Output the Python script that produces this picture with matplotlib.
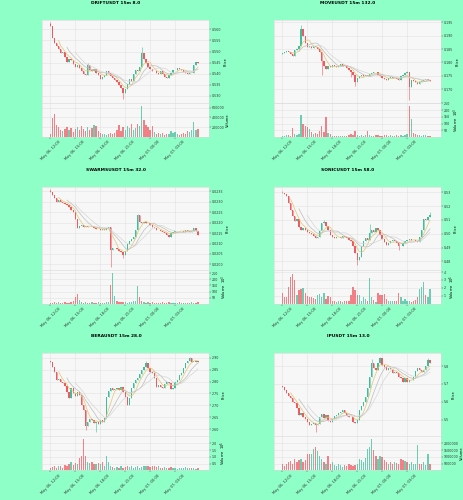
import matplotlib
matplotlib.use('Agg')
import matplotlib.pyplot as plt
import numpy as np
import pandas as pd

dates = pd.date_range('2025-05-06 12:00', periods=72, freq='15min')

# ---------------- DRIFT ----------------
drift_open0 = 0.5625
drift_close = [0.5615, 0.5560, 0.5540, 0.5525, 0.5510, 0.5495, 0.5500, 0.5475, 0.5455, 0.5465,
               0.5462, 0.5445, 0.5432, 0.5440, 0.5424, 0.5410, 0.5400, 0.5392, 0.5440, 0.5418,
               0.5412, 0.5420, 0.5405, 0.5392, 0.5378, 0.5385, 0.5396, 0.5410, 0.5405, 0.5388,
               0.5380, 0.5370, 0.5362, 0.5350, 0.5335, 0.5312, 0.5330, 0.5352, 0.5375, 0.5368,
               0.5400, 0.5415, 0.5410, 0.5432, 0.5492, 0.5465, 0.5450, 0.5432, 0.5420, 0.5410,
               0.5412, 0.5402, 0.5398, 0.5410, 0.5400, 0.5387, 0.5380, 0.5392, 0.5402, 0.5415,
               0.5418, 0.5425, 0.5420, 0.5418, 0.5408, 0.5405, 0.5398, 0.5402, 0.5405, 0.5440,
               0.5455, 0.5447]
drift_highs = {0: 0.5632, 18: 0.5447, 44: 0.5522}
drift_lows = {35: 0.5285}
drift_vol = [60, 390, 480, 250, 200, 150, 120, 170, 210, 140, 180, 110, 160, 200, 140, 230, 170, 120,
             210, 150, 190, 240, 230, 130, 90, 60, 70, 50, 60, 80, 60, 90, 140, 240, 120, 200,
             150, 230, 180, 260, 140, 180, 260, 230, 640, 350, 250, 200, 150, 230, 100, 60, 80, 60,
             90, 50, 70, 60, 120, 80, 100, 60, 50, 60, 80, 60, 120, 100, 150, 310, 140, 170]

# ---------------- MOVE ----------------
move_open0 = 0.1830
move_close = [0.1834, 0.1838, 0.1844, 0.1840, 0.1832, 0.1822, 0.1846, 0.1850, 0.1862, 0.1925,
              0.1900, 0.1872, 0.1858, 0.1862, 0.1855, 0.1860, 0.1856, 0.1850, 0.1838, 0.1805,
              0.1785, 0.1776, 0.1785, 0.1782, 0.1790, 0.1786, 0.1782, 0.1788, 0.1792, 0.1788,
              0.1791, 0.1780, 0.1772, 0.1765, 0.1752, 0.1728, 0.1740, 0.1748, 0.1752, 0.1749,
              0.1754, 0.1750, 0.1755, 0.1760, 0.1764, 0.1762, 0.1754, 0.1748, 0.1741, 0.1738,
              0.1735, 0.1742, 0.1745, 0.1740, 0.1742, 0.1738, 0.1735, 0.1748, 0.1754, 0.1760,
              0.1762, 0.1706, 0.1735, 0.1731, 0.1728, 0.1720, 0.1726, 0.1730, 0.1735, 0.1737,
              0.1733, 0.1731]
move_highs = {9: 0.1940, 60: 0.1768}
move_lows = {19: 0.1752, 33: 0.1746, 35: 0.1711, 61: 0.1659}
move_vol = [5, 8, 15, 12, 10, 70, 20, 15, 25, 160, 95, 85, 72, 60, 40, 25, 30, 20, 45, 78, 35, 145,
            30, 20, 10, 8, 6, 8, 5, 6, 8, 10, 15, 22, 12, 48, 15, 10, 12, 8, 15, 45, 12, 10, 8, 12,
            15, 8, 10, 12, 18, 10, 15, 8, 10, 12, 8, 15, 10, 12, 20, 230, 137, 28, 20, 15, 12, 10,
            15, 12, 10, 8]

# ---------------- SWARMS ----------------
swarms_open0 = 0.02352
swarms_close = [0.02345, 0.02331, 0.02315, 0.02300, 0.02307, 0.02299, 0.02294, 0.02290, 0.02282, 0.02272,
                0.02259, 0.02250, 0.02215, 0.02172, 0.02182, 0.02188, 0.02180, 0.02185, 0.02181, 0.02177,
                0.02180, 0.02172, 0.02167, 0.02170, 0.02164, 0.02170, 0.02166, 0.02175, 0.02180, 0.02069,
                0.02077, 0.02080, 0.02072, 0.02064, 0.02058, 0.02045, 0.02065, 0.02098, 0.02110, 0.02122,
                0.02130, 0.02164, 0.02236, 0.02204, 0.02198, 0.02202, 0.02196, 0.02198, 0.02188, 0.02180,
                0.02172, 0.02166, 0.02164, 0.02158, 0.02155, 0.02150, 0.02140, 0.02132, 0.02150, 0.02157,
                0.02160, 0.02162, 0.02158, 0.02160, 0.02157, 0.02164, 0.02160, 0.02155, 0.02162, 0.02172,
                0.02160, 0.02142]
swarms_highs = {0: 0.02360, 42: 0.02240}
swarms_lows = {29: 0.01986, 35: 0.02030}
swarms_vol = [5, 8, 10, 6, 12, 8, 5, 10, 6, 8, 12, 25, 55, 83, 30, 12, 8, 10, 6, 8, 12, 5, 8, 10,
              6, 8, 5, 10, 12, 150, 255, 60, 25, 15, 10, 18, 12, 8, 15, 10, 20, 25, 144, 55, 25, 12,
              8, 10, 6, 12, 8, 5, 8, 6, 10, 5, 8, 12, 6, 5, 8, 6, 10, 5, 8, 6, 5, 8, 10, 6, 8, 12]

# ---------------- SONIC ----------------
sonic_open0 = 0.5298
sonic_close = [0.5292, 0.5286, 0.5275, 0.5220, 0.5175, 0.5130, 0.5090, 0.5105, 0.5052, 0.5030,
               0.5040, 0.5025, 0.5015, 0.5005, 0.4995, 0.4982, 0.4968, 0.4975, 0.5020, 0.5075,
               0.5088, 0.5060, 0.5025, 0.4992, 0.4978, 0.4966, 0.4975, 0.4980, 0.4972, 0.4985,
               0.4978, 0.4966, 0.4955, 0.4945, 0.4915, 0.4860, 0.4812, 0.4835, 0.4915, 0.4945,
               0.4968, 0.4955, 0.5005, 0.5025, 0.5010, 0.5045, 0.5030, 0.4990, 0.4962, 0.4940,
               0.4920, 0.4932, 0.4945, 0.4955, 0.4948, 0.4930, 0.4908, 0.4915, 0.4935, 0.4948,
               0.4955, 0.4962, 0.4958, 0.4955, 0.4950, 0.4942, 0.4975, 0.5030, 0.5110, 0.5098,
               0.5122, 0.5136]
sonic_highs = {0: 0.5312, 20: 0.5100, 42: 0.5070, 71: 0.5160}
sonic_lows = {36: 0.4774, 56: 0.4880}
sonic_vol = [1.4, 0.9, 0.9, 2.1, 3.4, 3.8, 3.0, 1.1, 1.7, 1.9, 2.0, 1.3, 1.0, 0.8, 0.9, 0.7, 0.6, 1.1,
             1.2, 0.9, 1.3, 0.6, 1.0, 0.8, 0.4, 0.3, 0.2, 0.4, 0.3, 0.2, 0.3, 0.4, 0.4, 1.1, 2.1, 1.7,
             1.1, 1.1, 0.4, 0.8, 0.6, 0.4, 3.3, 0.8, 0.5, 0.2, 1.3, 1.1, 1.1, 1.2, 0.6, 0.4, 0.3, 0.4,
             0.3, 0.4, 1.3, 0.8, 0.4, 0.6, 0.4, 0.3, 0.2, 0.3, 0.5, 0.8, 1.9, 2.1, 2.8, 1.1, 0.8, 1.9]

# ---------------- BERA ----------------
bera_open0 = 2.888
bera_close = [2.882, 2.862, 2.840, 2.808, 2.812, 2.800, 2.792, 2.780, 2.757, 2.730,
              2.772, 2.752, 2.738, 2.757, 2.744, 2.702, 2.682, 2.612, 2.630, 2.645,
              2.638, 2.628, 2.632, 2.624, 2.638, 2.630, 2.648, 2.736, 2.760, 2.771,
              2.764, 2.768, 2.772, 2.766, 2.776, 2.758, 2.736, 2.702, 2.730, 2.771,
              2.792, 2.806, 2.813, 2.830, 2.848, 2.862, 2.876, 2.856, 2.840, 2.834,
              2.813, 2.778, 2.786, 2.777, 2.775, 2.789, 2.799, 2.792, 2.767, 2.772,
              2.799, 2.806, 2.827, 2.836, 2.855, 2.879, 2.887, 2.897, 2.883, 2.884,
              2.888, 2.882]
bera_highs = {46: 2.885, 67: 2.905}
bera_lows = {17: 2.596, 22: 2.589}
bera_vol = [0.2, 0.25, 0.3, 0.2, 0.35, 0.3, 0.2, 0.4, 0.35, 0.45, 0.6, 0.4, 0.55, 0.45, 0.9, 1.1,
            2.3, 1.1, 0.6, 0.55, 0.6, 0.45, 0.5, 0.55, 0.45, 0.6, 0.35, 1.1, 0.6, 0.35, 0.25, 0.2,
            0.25, 0.2, 0.3, 0.2, 0.25, 0.35, 0.25, 0.3, 0.2, 0.25, 0.3, 0.2, 0.25, 0.3, 0.35, 0.3,
            0.25, 0.3, 0.35, 0.25, 0.3, 0.2, 0.15, 0.25, 0.2, 0.15, 0.25, 0.2, 0.15, 0.1, 0.15, 0.2,
            0.15, 0.25, 0.2, 0.15, 0.2, 0.15, 0.1, 0.15]

# ---------------- IP ----------------
ip_open0 = 5.690
ip_close = [5.684, 5.668, 5.647, 5.630, 5.619, 5.600, 5.591, 5.565, 5.526, 5.535,
            5.516, 5.505, 5.488, 5.470, 5.474, 5.479, 5.470, 5.474, 5.516, 5.530,
            5.507, 5.526, 5.495, 5.485, 5.505, 5.520, 5.526, 5.535, 5.544, 5.554,
            5.535, 5.520, 5.516, 5.513, 5.488, 5.479, 5.498, 5.554, 5.575, 5.600,
            5.628, 5.675, 5.740, 5.815, 5.787, 5.776, 5.815, 5.843, 5.806, 5.796,
            5.776, 5.790, 5.781, 5.759, 5.768, 5.759, 5.740, 5.731, 5.712, 5.731,
            5.712, 5.722, 5.722, 5.740, 5.770, 5.787, 5.776, 5.768, 5.780, 5.800,
            5.834, 5.815]
ip_highs = {43: 5.840, 47: 5.850, 70: 5.846}
ip_lows = {16: 5.433}
ip_vol = [0.50, 0.30, 0.45, 0.62, 0.70, 0.50, 0.87, 0.62, 0.75, 0.87, 0.62, 0.80, 1.20, 1.20, 1.20,
          1.60, 1.70, 1.45, 1.10, 0.87, 0.62, 0.45, 1.10, 0.50, 0.62, 0.38, 0.30, 0.45, 0.38, 0.25,
          0.38, 0.30, 0.45, 0.38, 0.30, 0.40, 0.50, 0.87, 0.75, 0.62, 0.95, 1.60, 1.75, 2.30, 1.50,
          1.10, 0.87, 1.10, 1.00, 0.75, 0.62, 0.50, 0.62, 0.45, 0.62, 0.55, 0.50, 0.87, 0.75, 0.70,
          0.62, 0.50, 0.62, 0.50, 0.50, 1.87, 0.50, 0.45, 0.62, 0.38, 1.20, 0.45]

charts = [
    dict(title='DRIFTUSDT 15m 8.0', o0=drift_open0, c=drift_close, hi=drift_highs, lo=drift_lows,
         vol=drift_vol, vmult=1e3, vexp=None, yt=np.arange(0.530, 0.5601, 0.005), yfmt='%.3f',
         ylim=(0.5268, 0.5642), vt=[200000, 400000, 600000], vlim=697000, vfmt='%d'),
    dict(title='MOVEUSDT 15m 132.0', o0=move_open0, c=move_close, hi=move_highs, lo=move_lows,
         vol=move_vol, vmult=1e3, vexp=3, yt=np.arange(0.170, 0.1951, 0.005), yfmt='%.3f',
         ylim=(0.16475, 0.19588), vt=[50, 100, 150, 200, 250], vlim=252, vfmt='%d'),
    dict(title='SWARMSUSDT 15m 32.0', o0=swarms_open0, c=swarms_close, hi=swarms_highs, lo=swarms_lows,
         vol=swarms_vol, vmult=1e3, vexp=3, yt=np.arange(0.0200, 0.02351, 0.0005), yfmt='%.4f',
         ylim=(0.01975, 0.02371), vt=[50, 100, 150, 200, 250], vlim=280, vfmt='%d'),
    dict(title='SONICUSDT 15m 58.0', o0=sonic_open0, c=sonic_close, hi=sonic_highs, lo=sonic_lows,
         vol=sonic_vol, vmult=1e5, vexp=5, yt=np.arange(0.48, 0.5301, 0.01), yfmt='%.2f',
         ylim=(0.4740, 0.5341), vt=[1, 2, 3, 4], vlim=4.3, vfmt='%d'),
    dict(title='BERAUSDT 15m 28.0', o0=bera_open0, c=bera_close, hi=bera_highs, lo=bera_lows,
         vol=bera_vol, vmult=1e5, vexp=5, yt=np.arange(2.60, 2.9001, 0.05), yfmt='%.2f',
         ylim=(2.570, 2.918), vt=[0.5, 1.0, 1.5, 2.0], vlim=2.52, vfmt='%.1f'),
    dict(title='IPUSDT 15m 13.0', o0=ip_open0, c=ip_close, hi=ip_highs, lo=ip_lows,
         vol=ip_vol, vmult=1e6, vexp=None, yt=np.arange(5.5, 5.801, 0.1), yfmt='%.1f',
         ylim=(5.406, 5.871), vt=[500000, 1000000, 1500000, 2000000], vlim=2.52e6, vfmt='%d'),
]

UP = '#3dbf9b'
DOWN = '#ef5a61'
BG = '#8effc6'
FACE = '#f7f7f7'
GRID = '#e2e2e2'
MAV = (5, 9, 13)
MAVC = ['#e2c66e', '#bdbdbd', '#d6d6d6']

W, H = 464, 500
fig = plt.figure(figsize=(W / 100, H / 100), dpi=100, facecolor=BG)

tick_idx = list(range(0, 72, 12))
tick_lab = [dates[i].strftime('%b %d, %H:%M') for i in tick_idx]

for k, ch in enumerate(charts):
    col, row = k % 2, k // 2
    x0 = 42 + 232 * col
    top = 20 + 166.7 * row
    axp = fig.add_axes([x0 / W, 1 - (top + 83) / H, 167 / W, 83 / H])
    axv = fig.add_axes([x0 / W, 1 - (top + 117) / H, 167 / W, 34 / H], sharex=axp)
    fig.text((116 + 232 * col) / W, 1 - (3 + 166.7 * row) / H, ch['title'], ha='center', va='center',
             fontsize=3.2, fontweight='bold')

    c = np.array(ch['c'])
    o = np.concatenate([[ch['o0']], c[:-1]])
    hi = np.maximum(o, c)
    lo = np.minimum(o, c)
    for i, v in ch['hi'].items():
        hi[i] = v
    for i, v in ch['lo'].items():
        lo[i] = v
    x = np.arange(len(c))
    up = c >= o
    colors = np.where(up, UP, DOWN)
    span = ch['ylim'][1] - ch['ylim'][0]
    body = np.maximum(np.abs(c - o), span * 0.004)
    axp.vlines(x, lo, hi, colors=colors, linewidth=0.4, zorder=2)
    axp.bar(x, body, bottom=np.minimum(o, c), width=0.62, color=colors, linewidth=0, zorder=3)
    s = pd.Series(c)
    for m, mc in zip(MAV, MAVC):
        axp.plot(x, s.rolling(m).mean(), color=mc, linewidth=0.5, zorder=4)

    vol = np.array(ch['vol']) * ch['vmult']
    if ch['vexp'] is not None:
        vol = vol / 10 ** ch['vexp']
    axv.bar(x, vol, width=0.62, color=colors, alpha=0.75, linewidth=0)

    for ax in (axp, axv):
        ax.set_facecolor(FACE)
        ax.grid(True, color=GRID, linewidth=0.4)
        ax.set_axisbelow(True)
        ax.yaxis.tick_right()
        ax.yaxis.set_label_position('right')
        ax.tick_params(labelsize=2.3, length=1.2, width=0.3, pad=1, colors='#333333')
        for sp in ax.spines.values():
            sp.set_color('#d8d8d8')
            sp.set_linewidth(0.4)

    axp.set_xlim(-4, 76.3)
    axp.set_ylim(*ch['ylim'])
    axp.set_yticks(ch['yt'])
    axp.set_yticklabels([ch['yfmt'] % v for v in ch['yt']])
    axp.set_ylabel('Price', fontsize=2.6, labelpad=1.5)
    axp.tick_params(axis='x', labelbottom=False)

    axv.set_ylim(0, ch['vlim'])
    axv.set_yticks(ch['vt'])
    axv.set_yticklabels([ch['vfmt'] % v for v in ch['vt']])
    vl = 'Volume' if ch['vexp'] is None else 'Volume  $10^{%d}$' % ch['vexp']
    axv.set_ylabel(vl, fontsize=2.6, labelpad=1)
    axv.set_xticks(tick_idx)
    axv.set_xticklabels(tick_lab, rotation=45, ha='center', fontsize=2.6)

fig.savefig('out.png', dpi=100, facecolor=BG)
